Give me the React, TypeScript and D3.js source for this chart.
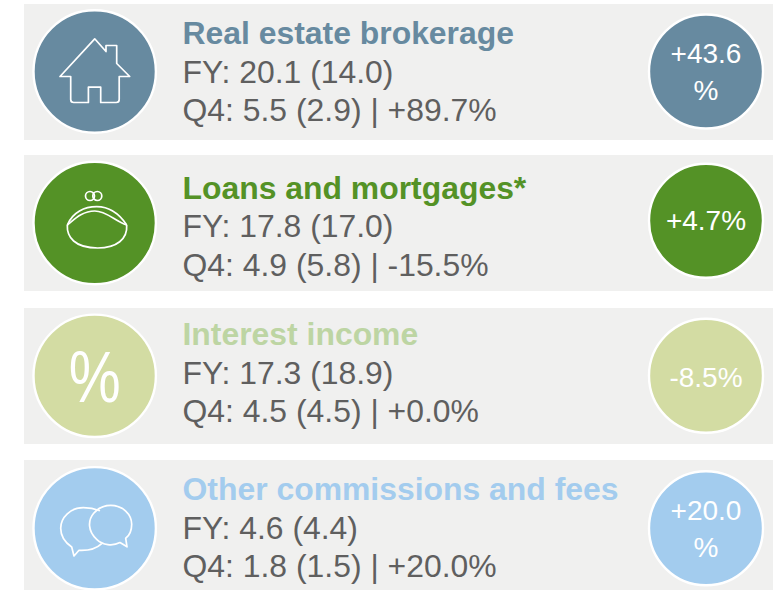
import * as d3 from "d3";
import { useEffect, useRef } from "react";

// values
const categories = ["Real estate brokerage", "Loans and mortgages*", "Interest income", "Other commissions and fees"];
const fyValues = [20.1, 17.8, 17.3, 4.6];
const fyPrevValues = [14.0, 17.0, 18.9, 4.4];
const q4Values = [5.5, 4.9, 4.5, 1.8];
const q4PrevValues = [2.9, 5.8, 4.5, 1.5];
const q4Change = [89.7, -15.5, 0.0, 20.0];
const fyChange = [43.6, 4.7, -8.5, 20.0];
const icons = ["house", "purse", "percent", "chat"];

const circleColors = ["#678aa0", "#549226", "#d3dca3", "#a3ccee"];
const titleColors = ["#678aa0", "#549226", "#bdd5a3", "#a3ccee"];

const width = 783;
const height = 590;

const panelTop = d3.scaleOrdinal<string, number>().domain(categories).range([4, 155, 308, 460]);
const circleY = d3.scaleOrdinal<string, number>().domain(categories).range([71.5, 223, 375.8, 528.3]);
const smallY = d3.scaleOrdinal<string, number>().domain(categories).range([71.5, 220.8, 375.8, 528.3]);
const labelY = d3.scaleOrdinal<string, number>().domain(categories).range([63, 230, 386.7, 520]);
const titleY = d3.scaleOrdinal<string, number>().domain(categories).range([44, 199, 345, 500]);
const fyY = d3.scaleOrdinal<string, number>().domain(categories).range([83, 237, 384, 538.5]);
const q4Y = d3.scaleOrdinal<string, number>().domain(categories).range([121, 275.5, 422, 577]);

const fmt1 = d3.format(".1f");
const signed = (v: number) => d3.format("+.1f")(v).replace("\u2212", "-");

function drawIcon(g: any, kind: string) {
  g.attr("fill", "none").attr("stroke", "#fff").attr("stroke-width", 1.7).attr("stroke-linejoin", "round");

  if (kind === "house") {
    g.append("path").attr(
      "d",
      "M0,-32.7 L11.3,-20 V-26 H22 V-8 L35,5 H24.5 V28 Q24.5,31 21.5,31 H6 V15.7 H-6.3 V31 H-21 Q-24,31 -24,28 V5 H-34.7 Z"
    );
  }
  if (kind === "purse") {
    g.append("circle").attr("cx", -4.7).attr("cy", -27).attr("r", 4.5);
    g.append("circle").attr("cx", 2.6).attr("cy", -27).attr("r", 4.5);
    g.append("path").attr("d", "M-27.4,2 C-28,14 -20,25 3,25 C22,25 33,16 32,2");
    g.append("path").attr("d", "M-27.4,2 C-22,-11 -10,-16.3 2,-16.3 C14,-16.3 24,-10 32,2");
    g.append("path").attr("d", "M-27.4,2 C-20,-4 -12,-12 0,-12 C12,-12 20,-2 32,2");
  }
  if (kind === "percent") {
    g.append("text")
      .attr("transform", "translate(0,26.5) scale(0.8,1)")
      .attr("text-anchor", "middle")
      .attr("font-family", "'Liberation Sans', Arial, sans-serif")
      .attr("font-size", 73)
      .attr("fill", "#fff")
      .attr("stroke", "none")
      .text("%");
  }
  if (kind === "chat") {
    g.append("path").attr(
      "d",
      "M5.3,-17.5 C-1,-20 -6,-20.7 -11.4,-20.7 C-24,-20.7 -34,-11 -34,0 C-34,8 -30,14 -23,18.7 L-20.7,27.7 L-15.7,22 C-6,22.5 2,20 7,15.3"
    );
    g.append("path").attr(
      "d",
      "M16,-23 C28,-23 37,-14 37,-4 C37,2 35,7 31,10 L32.3,18.5 L25.3,14.3 C18,18 8,17 2,11 C-7,3 -7,-8 -1,-15 C4,-21 10,-23 16,-23 Z"
    );
  }
}

export default function App() {
  const ref = useRef<SVGSVGElement | null>(null);

  useEffect(() => {
    const svg = d3.select(ref.current);
    svg.selectAll("*").remove();

    const rows = svg
      .selectAll("g.row")
      .data(categories)
      .join("g")
      .attr("class", "row")
      .attr("font-family", "'Liberation Sans', Arial, sans-serif");

    // grey panel behind each row
    rows
      .append("rect")
      .attr("x", 24)
      .attr("y", (d) => panelTop(d))
      .attr("width", 749)
      .attr("height", 136)
      .attr("fill", "#f0f0ef");

    // big icon circle
    rows
      .append("circle")
      .attr("cx", 94.7)
      .attr("cy", (d) => circleY(d))
      .attr("r", 61.2)
      .attr("fill", (_, i) => circleColors[i])
      .attr("stroke", "#fff")
      .attr("stroke-width", 2.4);

    rows
      .append("g")
      .attr("transform", (d) => `translate(94.7,${circleY(d)})`)
      .each(function (_, i) {
        drawIcon(d3.select(this), icons[i]);
      });

    // text block
    rows
      .append("text")
      .attr("x", 182.5)
      .attr("y", (d) => titleY(d))
      .attr("font-size", 31.9)
      .attr("font-weight", "bold")
      .attr("fill", (_, i) => titleColors[i])
      .text((d) => d);

    rows
      .append("text")
      .attr("x", 182.5)
      .attr("y", (d) => fyY(d))
      .attr("font-size", 31.9)
      .attr("fill", "#5f5f5f")
      .text((_, i) => `FY: ${fmt1(fyValues[i])} (${fmt1(fyPrevValues[i])})`);

    rows
      .append("text")
      .attr("x", 182.5)
      .attr("y", (d) => q4Y(d))
      .attr("font-size", 31.9)
      .attr("fill", "#5f5f5f")
      .text((_, i) => `Q4: ${fmt1(q4Values[i])} (${fmt1(q4PrevValues[i])}) | ${signed(q4Change[i])}%`);

    // full year change circle
    rows
      .append("circle")
      .attr("cx", 706)
      .attr("cy", (d) => smallY(d))
      .attr("r", 57)
      .attr("fill", (_, i) => circleColors[i])
      .attr("stroke", "#fff")
      .attr("stroke-width", 2.4);

    rows.each(function (d, i) {
      const label = signed(fyChange[i]);
      // the long labels wrap, the percent sign falls on its own line
      const lines = label.length > 4 ? [label, "%"] : [label + "%"];
      const t = d3
        .select(this)
        .append("text")
        .attr("text-anchor", "middle")
        .attr("font-size", 28)
        .attr("fill", "#fff");
      lines.forEach((line, j) => {
        t.append("tspan").attr("x", 706).attr("y", labelY(d) + j * 37).text(line);
      });
    });
  }, []);

  return (
    <svg
      ref={ref}
      width={width}
      height={height}
      style={{ position: "absolute", left: 0, top: 0, background: "#fff" }}
    />
  );
}
